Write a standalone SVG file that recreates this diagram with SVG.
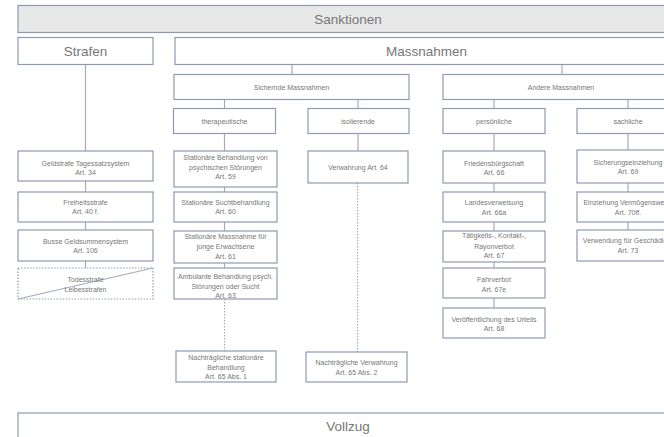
<svg xmlns="http://www.w3.org/2000/svg" width="664" height="437" viewBox="0 0 664 437">
<style>
.b{fill:#ffffff;stroke:#8f9ab0;stroke-width:1.2}
.g{fill:#e8e8e8;stroke:#8f9ab0;stroke-width:1.2}
.d{fill:#ffffff;stroke:#8f9ab0;stroke-width:1.2;stroke-dasharray:1.5 1.5}
.c{stroke:#a3abbd;stroke-width:1.2;fill:none}
.cd{stroke:#a3abbd;stroke-width:1.2;fill:none;stroke-dasharray:1.5 1.5}
text{font-family:"Liberation Sans",Arial,sans-serif;fill:#777777;text-anchor:middle}
.L{font-size:13.5px}
.s{font-size:7px}
</style>
<rect width="664" height="437" fill="#ffffff"/>
<g id="connectors">
<line class="c" x1="85.5" y1="64.5" x2="85.5" y2="268"/>
<line class="c" x1="292" y1="64.5" x2="292" y2="74.5"/>
<line class="c" x1="562" y1="64.5" x2="562" y2="74.5"/>
<line class="c" x1="224.5" y1="99.5" x2="224.5" y2="108.5"/>
<line class="c" x1="358" y1="99.5" x2="358" y2="108.5"/>
<line class="c" x1="224.5" y1="133.5" x2="224.5" y2="268"/>
<line class="c" x1="358" y1="133.5" x2="358" y2="151"/>
<line class="cd" x1="224.5" y1="299" x2="224.5" y2="351"/>
<line class="cd" x1="357.5" y1="183" x2="357.5" y2="352"/>
<line class="c" x1="494" y1="99.5" x2="494" y2="108.5"/>
<line class="c" x1="494" y1="133.5" x2="494" y2="308"/>
<line class="c" x1="628" y1="99.5" x2="628" y2="108.5"/>
<line class="c" x1="628" y1="133.5" x2="628" y2="230"/>
</g>
<g id="sanktionen"><rect class="g" x="18" y="5.5" width="660" height="27"/><text class="L" x="348" y="24">Sanktionen</text></g>
<g id="strafen"><rect class="b" x="18" y="37.5" width="135" height="27"/><text class="L" x="85.5" y="56">Strafen</text></g>
<g id="massnahmen"><rect class="b" x="175" y="37.5" width="503" height="27"/><text class="L" x="426.5" y="56">Massnahmen</text></g>
<g id="sichernde"><rect class="b" x="174" y="74.5" width="235" height="25"/><text class="s" x="291.5" y="89.5">Sichernde Massnahmen</text></g>
<g id="andere"><rect class="b" x="443" y="74.5" width="235" height="25"/><text class="s" x="561" y="89.5">Andere Massnahmen</text></g>
<g id="therapeutische"><rect class="b" x="173.5" y="108.5" width="102" height="25"/><text class="s" x="224.5" y="123.5">therapeutische</text></g>
<g id="isolierende"><rect class="b" x="308" y="108.5" width="101" height="25"/><text class="s" x="358" y="123.5">isolierende</text></g>
<g id="persoenliche"><rect class="b" x="443" y="108.5" width="102" height="25"/><text class="s" x="494" y="123.5">persönliche</text></g>
<g id="sachliche"><rect class="b" x="577" y="108.5" width="102" height="25"/><text class="s" x="628" y="123.5">sachliche</text></g>
<g id="geldstrafe"><rect class="b" x="18" y="151" width="135" height="30"/><text class="s" x="85.5" y="165.5">Geldstrafe Tagessatzsystem</text><text class="s" x="85.5" y="174.5">Art. 34</text></g>
<g id="freiheitsstrafe"><rect class="b" x="18" y="192" width="135" height="30"/><text class="s" x="85.5" y="204.5">Freiheitsstrafe</text><text class="s" x="85.5" y="213.5">Art. 40 f.</text></g>
<g id="busse"><rect class="b" x="18" y="230" width="135" height="31"/><text class="s" x="85.5" y="243.5">Busse Geldsummensystem</text><text class="s" x="85.5" y="252.5">Art. 106</text></g>
<g id="todesstrafe"><rect class="d" x="18" y="268" width="135" height="31"/><line class="c" x1="18" y1="299" x2="153" y2="268" stroke="#8f9ab0"/><text class="s" x="85.5" y="281.5">Todesstrafe</text><text class="s" x="85.5" y="291.5">Leibesstrafen</text></g>
<g id="art59"><rect class="b" x="174" y="151" width="103" height="36"/><text class="s" x="225.5" y="159.5">Stationäre Behandlung von</text><text class="s" x="225.5" y="169.5">psychischen Störungen</text><text class="s" x="225.5" y="178.5">Art. 59</text></g>
<g id="art60"><rect class="b" x="174" y="192" width="103" height="30"/><text class="s" x="225.5" y="204.5">Stationäre Suchtbehandlung</text><text class="s" x="225.5" y="213.5">Art. 60</text></g>
<g id="art61"><rect class="b" x="174" y="231" width="103" height="32"/><text class="s" x="225.5" y="238.5">Stationäre Massnahme für</text><text class="s" x="225.5" y="248.5">junge Erwachsene</text><text class="s" x="225.5" y="258.5">Art. 61</text></g>
<g id="art63"><rect class="b" x="174" y="268" width="103" height="31"/><text class="s" x="225.5" y="278.5">Ambulante Behandlung psych.</text><text class="s" x="225.5" y="288.5">Störungen oder Sucht</text><text class="s" x="225.5" y="297.5">Art. 63</text></g>
<g id="art65abs1"><rect class="b" x="176" y="351" width="100" height="31"/><text class="s" x="226" y="359.5">Nachträgliche stationäre</text><text class="s" x="226" y="369.5">Behandlung</text><text class="s" x="226" y="378.5">Art. 65 Abs. 1</text></g>
<g id="art64"><rect class="b" x="308" y="151" width="100" height="32"/><text class="s" x="358" y="169.5">Verwahrung Art. 64</text></g>
<g id="art65abs2"><rect class="b" x="306" y="352" width="101" height="30"/><text class="s" x="356.5" y="364.5">Nachträgliche Verwahrung</text><text class="s" x="356.5" y="374.5">Art. 65 Abs. 2</text></g>
<g id="art66"><rect class="b" x="443" y="151" width="102" height="32"/><text class="s" x="494" y="165.5">Friedensbürgschaft</text><text class="s" x="494" y="174.5">Art. 66</text></g>
<g id="art66a"><rect class="b" x="443" y="192" width="102" height="30"/><text class="s" x="494" y="204.5">Landesverweisung</text><text class="s" x="494" y="214.5">Art. 66a</text></g>
<g id="art67"><rect class="b" x="443" y="231" width="102" height="31"/><text class="s" x="494" y="237.5">Tätigkeits-, Kontakt-,</text><text class="s" x="494" y="248.5">Rayonverbot</text><text class="s" x="494" y="258">Art. 67</text></g>
<g id="art67e"><rect class="b" x="443" y="268" width="102" height="30"/><text class="s" x="494" y="281.5">Fahrverbot</text><text class="s" x="494" y="291.5">Art. 67e</text></g>
<g id="art68"><rect class="b" x="443" y="308" width="102" height="30"/><text class="s" x="494" y="321.5">Veröffentlichung des Urteils</text><text class="s" x="494" y="330.5">Art. 68</text></g>
<g id="art69"><rect class="b" x="577" y="150" width="102" height="33"/><text class="s" x="628" y="164.5">Sicherungseinziehung</text><text class="s" x="628" y="173.5">Art. 69</text></g>
<g id="art70"><rect class="b" x="577" y="192" width="102" height="30"/><text class="s" x="628" y="204.5">Einziehung Vermögenswerte</text><text class="s" x="628" y="214.5">Art. 70ff.</text></g>
<g id="art73"><rect class="b" x="577" y="230" width="102" height="31"/><text class="s" x="628" y="242.5">Verwendung für Geschädigte</text><text class="s" x="628" y="252.5">Art. 73</text></g>
<g id="vollzug"><rect class="b" x="18" y="413" width="660" height="40"/><text class="L" x="348" y="431">Vollzug</text></g>
</svg>
